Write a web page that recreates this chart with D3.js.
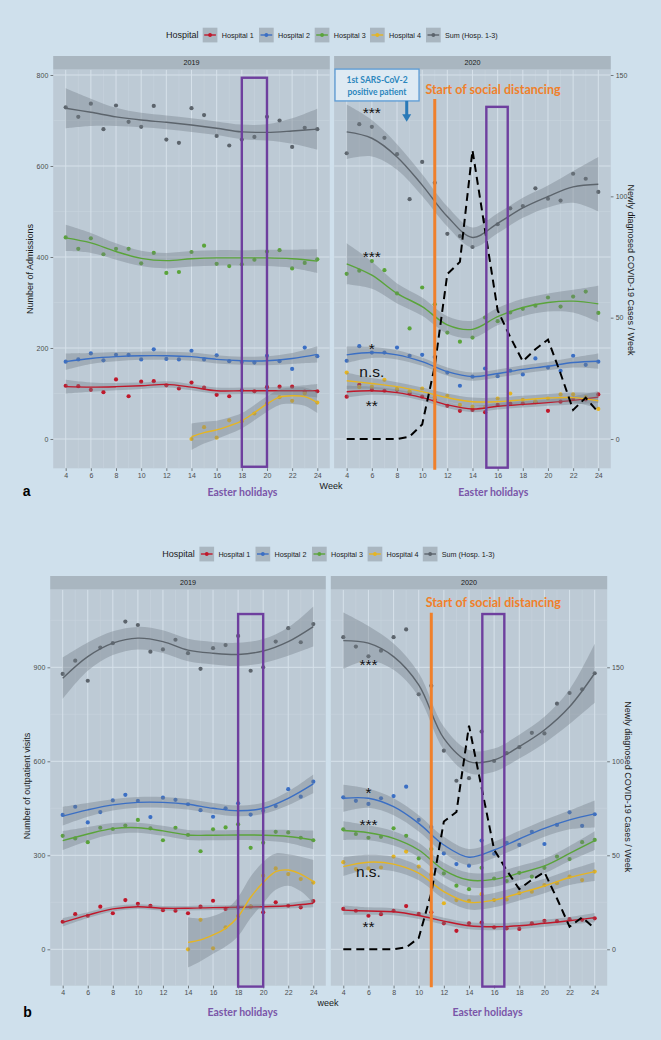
<!DOCTYPE html>
<html><head><meta charset="utf-8">
<script src="https://cdn.jsdelivr.net/npm/d3@7"></script>
<style>
html,body{margin:0;padding:0;background:#cfe0ec;}
svg{display:block;font-family:"Liberation Sans",Arial,sans-serif;}
</style></head><body>
<svg id="chart" width="661" height="1040"></svg>
<script>
// ---------------- DATA ----------------
const weeks = [4,5,6,7,8,9,10,11,12,13,14,15,16,17,18,19,20,21,22,23,24];
const weeksH4_2019 = [14,15,16,17,18,19,20,21,22,23,24];
const fitWeeks = [4,6,8,10,12,14,16,18,20,22,24];
const weekTicks = [4,6,8,10,12,14,16,18,20,22,24];
const minorWeeks = [5,7,9,11,13,15,17,19,21,23];
const years = ["2019","2020"];
const hospitals = ["Hospital 1","Hospital 2","Hospital 3","Hospital 4","Sum (Hosp. 1-3)"];
const hospColors = ["#c0182b","#3b6fc4","#5aa43a","#e5b523","#5c646c"];

// Panel a: admissions
const admH1_2019 = [117,116,108,103,131,94,126,127,118,111,124,113,97,94,107,105,114,115,115,104,105];
const admH2_2019 = [170,175,188,173,185,185,175,197,176,175,194,175,184,171,169,168,183,171,154,201,182];
const admH3_2019 = [443,418,441,406,418,418,386,409,365,367,411,425,385,380,384,394,412,415,375,387,395];
const admH4_2019 = [0,26,3,41,39,56,78,92,84,100,80];
const admSum_2019 = [729,708,737,681,733,697,686,732,658,651,727,712,666,645,658,664,708,700,642,684,681];
const admH1_2020 = [93,119,108,106,108,100,93,86,73,62,64,59,75,78,78,81,62,82,88,87,98];
const admH2_2020 = [172,204,190,190,201,183,185,180,146,117,137,155,138,150,142,177,157,150,183,163,170];
const admH3_2020 = [363,370,391,371,320,243,333,296,234,214,223,267,259,278,286,293,311,291,313,324,277];
const admH4_2020 = [146,114,115,130,110,105,111,92,95,75,71,70,89,100,86,83,89,98,98,92,66];
const admSum_2020 = [628,692,686,662,626,527,609,563,451,446,422,481,472,507,512,551,528,524,583,572,543];

// loess fits (value, half-width of 95% band)
const fitAdmH1_2019 = [115,114,115,117,120,114,106,106,106,106,106];
const bandAdmH1_2019 = [15,10,8,7,7,7,7,7,8,10,15];
const fitAdmH2_2019 = [170,177,181,183,183,181,175,172,172,177,186];
const bandAdmH2_2019 = [18,12,10,9,9,9,9,9,10,12,18];
const fitAdmH3_2019 = [442,431,412,397,392,396,398,398,398,396,391];
const bandAdmH3_2019 = [29,22,18,17,17,17,17,17,18,20,26];
const fitAdmH4_2019 = [5,14,20,29,40,58,77,92,95,93,80];
const bandAdmH4_2019 = [29,24,20,18,17,17,17,17,18,20,23];
const fitAdmSum_2019 = [727,718,708,701,696,690,683,675,674,677,681];
const bandAdmSum_2019 = [44,30,20,16,15,15,15,16,18,28,45];
const fitAdmH1_2020 = [104,106,102,91,75,66,72,76,80,85,92];
const bandAdmH1_2020 = [13,9,7,7,7,7,7,7,7,9,13];
const fitAdmH2_2020 = [185,190,185,170,148,137,144,153,160,168,171];
const bandAdmH2_2020 = [18,12,10,9,9,9,9,9,9,11,17];
const fitAdmH3_2020 = [385,360,320,291,251,241,269,289,300,303,297];
const bandAdmH3_2020 = [45,30,22,20,19,19,19,19,20,25,40];
const fitAdmH4_2020 = [128,122,115,104,91,82,82,86,90,91,84];
const bandAdmH4_2020 = [18,12,10,9,9,9,9,9,9,11,17];
const fitAdmSum_2020 = [675,661,620,558,489,443,474,508,533,554,560];
const bandAdmSum_2020 = [60,40,28,24,22,22,22,22,24,35,60];

// Panel b: outpatient visits
const visH1_2019 = [88,112,107,136,115,157,145,139,125,123,115,136,155,129,134,136,118,150,139,134,154];
const visH2_2019 = [429,455,405,438,475,493,474,422,484,477,463,444,423,450,466,430,442,457,511,487,535];
const visH3_2019 = [362,354,342,388,384,395,413,386,348,388,365,313,383,389,399,324,340,375,373,356,348];
const visH4_2019 = [0,94,3,70,106,136,235,258,240,224,213];
const visSum_2019 = [879,921,857,963,977,1046,1035,950,957,988,945,895,961,971,1000,889,900,982,1025,980,1038];
const visH1_2020 = [129,123,107,112,123,138,113,118,83,59,83,85,70,67,65,83,91,90,96,94,99];
const visH2_2020 = [485,474,464,482,489,519,413,390,306,272,267,347,305,340,333,375,336,397,437,394,431];
const visH3_2020 = [383,368,356,359,386,362,290,320,242,203,192,260,226,218,244,232,260,296,288,342,349];
const visH4_2020 = [278,256,258,261,296,312,264,239,147,157,155,176,157,159,179,184,205,211,232,221,248];
const visSum_2020 = [996,966,935,953,996,1021,814,841,634,538,546,695,601,626,645,691,689,784,818,830,881];

const fitVisH1_2019 = [86,109,129,136,131,131,133,134,136,139,147];
const bandVisH1_2019 = [13,9,8,7.5,7.5,7.5,7.5,7.5,8,9,13];
const fitVisH2_2019 = [425,445,461,469,469,463,450,442,450,482,528];
const bandVisH2_2019 = [30,22,18,17,17,17,17,17,18,22,30];
const fitVisH3_2019 = [347,368,385,388,378,365,364,365,364,360,349];
const bandVisH3_2019 = [30,22,18,16,16,16,16,16,17,21,30];
const fitVisH4_2019 = [22,30,46,67,104,166,213,248,253,240,216];
const bandVisH4_2019 = [80,68,60,58,62,66,66,58,50,55,69];
const fitVisSum_2019 = [865,934,977,993,982,955,945,941,952,982,1030];
const bandVisSum_2019 = [66,45,38,36,36,36,36,37,38,45,64];
const fitVisH1_2020 = [125,122,120,108,90,75,72,75,83,91,101];
const bandVisH1_2020 = [15,12,11,11,11,11,11,11,11,12,15];
const fitVisH2_2020 = [482,482,455,402,333,294,317,352,386,413,432];
const bandVisH2_2020 = [43,30,27,26,26,26,26,26,27,30,43];
const fitVisH3_2020 = [379,372,354,317,253,221,223,243,266,306,347];
const bandVisH3_2020 = [30,24,23,23,23,23,23,23,23,24,30];
const fitVisH4_2020 = [264,278,272,243,184,150,157,179,202,229,248];
const bandVisH4_2020 = [30,24,23,23,23,23,23,23,23,24,30];
const fitVisSum_2020 = [985,977,934,844,673,599,604,647,700,774,881];
const bandVisSum_2020 = [90,55,42,38,37,37,37,38,42,55,94];

// Newly diagnosed COVID-19 cases per week (2020)
const covidCases2020 = [0,0,0,0,0,1,6,30,68,73,119,86,53,42,32,37,41,27,12,17,11];

const admTicks = [0,200,400,600,800];
const admMinor = [100,300,500,700];
const visTicks = [0,300,600,900];
const visMinor = [150,450,750,1050];
const caseTicks = [0,50,100,150];
const sigLabelsAdm = ["***","***","*","n.s.","**"];
const sigLabelsVis = ["***","*","***","n.s.","**"];

// ---------------- STYLE / LAYOUT ----------------
const COL = {bg:"#cfe0ec", panel:"#bdcad5", strip:"#a9b6c0", gridMajor:"#d6e1ea", gridMinor:"#c8d4dd",
  band:"#76808a", tick:"#333333", tickText:"#4d4d4d", orange:"#f0802b", purple:"#6e3f9e"};

const svg = d3.select("#chart");
svg.append("rect").attr("width",661).attr("height",1040).attr("fill",COL.bg);
const defs = svg.append("defs");
let clipN = 0;

function mkSeries(vals, fit, band, color, w, fw){
  return {weeks: w||weeks, vals, fit, band, color, fitWeeks: fw||fitWeeks};
}

function styleAxis(ax){
  ax.attr("font-family",null).attr("font-size",null);
  ax.select(".domain").remove();
  ax.selectAll(".tick line").attr("stroke",COL.tick).attr("stroke-width",0.6);
  ax.selectAll(".tick text").attr("font-size",7).attr("fill",COL.tickText)
    .attr("font-family","'Liberation Sans',Arial,sans-serif");
}

function drawFacet(P, F, series){
  const x = d3.scaleLinear().domain([4,24]).range(F.xr);
  const y = P.y;
  const [px0,px1] = F.px;
  const g = svg.append("g");
  const id = "clip"+(clipN++);
  defs.append("clipPath").attr("id",id).append("rect")
    .attr("x",px0).attr("y",P.top).attr("width",px1-px0).attr("height",P.bottom-P.top);
  g.append("rect").attr("x",px0).attr("y",P.top).attr("width",px1-px0).attr("height",P.bottom-P.top).attr("fill",COL.panel);
  const gg = g.append("g").attr("clip-path",`url(#${id})`);
  gg.selectAll(null).data(minorWeeks).join("line")
    .attr("x1",d=>x(d)).attr("x2",d=>x(d)).attr("y1",P.top).attr("y2",P.bottom)
    .attr("stroke",COL.gridMinor).attr("stroke-width",0.6);
  gg.selectAll(null).data(P.yMinor).join("line")
    .attr("x1",px0).attr("x2",px1).attr("y1",d=>y(d)).attr("y2",d=>y(d))
    .attr("stroke",COL.gridMinor).attr("stroke-width",0.6);
  gg.selectAll(null).data(weekTicks).join("line")
    .attr("x1",d=>x(d)).attr("x2",d=>x(d)).attr("y1",P.top).attr("y2",P.bottom)
    .attr("stroke",COL.gridMajor).attr("stroke-width",1);
  gg.selectAll(null).data(P.yTicks).join("line")
    .attr("x1",px0).attr("x2",px1).attr("y1",d=>y(d)).attr("y2",d=>y(d))
    .attr("stroke",COL.gridMajor).attr("stroke-width",1);
  // points
  series.forEach(s=>{
    gg.append("g").selectAll("circle").data(s.weeks.map((w,i)=>({w,v:s.vals[i]}))).join("circle")
      .attr("cx",d=>x(d.w)).attr("cy",d=>y(d.v)).attr("r",2.1).attr("fill",s.color);
  });
  // smooths
  series.forEach(s=>{
    const fd = s.fitWeeks.map((w,i)=>({w,v:s.fit[i],h:s.band[i]}));
    gg.append("path").datum(fd)
      .attr("d",d3.area().x(d=>x(d.w)).y0(d=>y(d.v-d.h)).y1(d=>y(d.v+d.h)).curve(d3.curveCatmullRom))
      .attr("fill",COL.band).attr("fill-opacity",0.4);
    gg.append("path").datum(fd)
      .attr("d",d3.line().x(d=>x(d.w)).y(d=>y(d.v)).curve(d3.curveCatmullRom))
      .attr("fill","none").attr("stroke",s.color).attr("stroke-width",1.4);
  });
  // strip
  g.append("rect").attr("x",px0).attr("y",P.stripTop).attr("width",px1-px0).attr("height",P.top-P.stripTop).attr("fill",COL.strip);
  g.append("text").attr("x",(px0+px1)/2).attr("y",(P.stripTop+P.top)/2).attr("dy","0.35em")
    .attr("text-anchor","middle").attr("font-size",7.2).attr("fill","#1a1a1a").text(F.year);
  // x axis
  const ax = g.append("g").attr("transform",`translate(0,${P.bottom})`)
    .call(d3.axisBottom(x).tickValues(weekTicks).tickSize(2.7).tickPadding(P.tickPad));
  styleAxis(ax);
  return {x,g,gg};
}

function drawPanel(P, seriesByYear, ann){
  const f19 = drawFacet(P, P.facets[0], seriesByYear[0]);
  const f20 = drawFacet(P, P.facets[1], seriesByYear[1]);
  // left axis
  const al = svg.append("g").attr("transform",`translate(${P.facets[0].px[0]},0)`)
    .call(d3.axisLeft(P.y).tickValues(P.yTicks).tickSize(2.7).tickPadding(2.2));
  styleAxis(al);
  // right (secondary) axis
  const ar = svg.append("g").attr("transform",`translate(${P.facets[1].px[1]},0)`)
    .call(d3.axisRight(P.c).tickValues(caseTicks).tickSize(2.7).tickPadding(2.2));
  styleAxis(ar);
  // COVID cases dashed line
  const x = f20.x;
  f20.gg.append("path").datum(weeks.map((w,i)=>({w,v:covidCases2020[i]})))
    .attr("d",d3.line().x(d=>x(d.w)).y(d=>P.c(d.v)))
    .attr("fill","none").attr("stroke","#000").attr("stroke-width",2).attr("stroke-dasharray","8,5");
  // start of social distancing
  f20.g.append("line").attr("x1",x(11)).attr("x2",x(11)).attr("y1",P.y(ann.orangeTop)).attr("y2",P.bottom+1.5)
    .attr("stroke",COL.orange).attr("stroke-width",3);
  f20.g.append("text").attr("x",x(ann.orangeTextW)).attr("y",P.y(ann.orangeTextV)).attr("text-anchor","middle")
    .attr("font-family","Lato, 'Open Sans', sans-serif").attr("font-weight","bold").attr("font-size",12.5)
    .attr("fill",COL.orange).text("Start of social distancing");
  // Easter holiday rectangles
  [[f19,ann.easter19],[f20,ann.easter20]].forEach(([f,e])=>{
    f.g.append("rect").attr("x",f.x(e[0])).attr("width",f.x(e[1])-f.x(e[0]))
      .attr("y",P.y(e[3])).attr("height",P.y(e[2])-P.y(e[3]))
      .attr("fill","none").attr("stroke",COL.purple).attr("stroke-width",2.4);
    f.g.append("text").attr("x",f.x(e[4])).attr("y",ann.easterTextY).attr("text-anchor","middle")
      .attr("font-family","Lato, 'Open Sans', sans-serif").attr("font-weight","bold").attr("font-size",10.5)
      .attr("fill","#7a56a8").text("Easter holidays");
  });
  // significance labels at week 6 of 2020
  ann.sigLabels.forEach((t,i)=>{
    f20.g.append("text").attr("x",x(6)).attr("y",ann.sigY[i]).attr("text-anchor","middle")
      .attr("font-size",15.5).attr("fill","#111").text(t);
  });
  return {f19,f20};
}

function drawLegend(L){
  svg.append("text").attr("x",L.titleX).attr("y",L.y).attr("dy","0.35em").attr("font-size",9)
    .attr("fill","#1a1a1a").text("Hospital");
  hospitals.forEach((h,i)=>{
    const bx = L.boxX[i];
    svg.append("rect").attr("x",bx).attr("y",L.y-7.3).attr("width",14.7).attr("height",14.7).attr("fill",COL.strip);
    svg.append("line").attr("x1",bx+1.5).attr("x2",bx+13.2).attr("y1",L.y).attr("y2",L.y)
      .attr("stroke",hospColors[i]).attr("stroke-width",1.4);
    svg.append("circle").attr("cx",bx+7.35).attr("cy",L.y).attr("r",1.9).attr("fill",hospColors[i]);
    svg.append("text").attr("x",bx+19).attr("y",L.y).attr("dy","0.35em").attr("font-size",7.2)
      .attr("fill","#1a1a1a").text(h);
  });
}

function rotText(x,y,angle,txt,size){
  svg.append("text").attr("transform",`translate(${x},${y}) rotate(${angle})`).attr("text-anchor","middle")
    .attr("font-size",size).attr("fill","#1a1a1a").text(txt);
}

// ---------------- PANEL A ----------------
const PA = {
  y: d3.scaleLinear().domain([0,800]).range([439,75]),
  c: d3.scaleLinear().domain([0,150]).range([439,75]),
  top:69.5, bottom:468.3, stripTop:56, tickPad:2.2, yTicks:admTicks, yMinor:admMinor,
  facets:[{year:years[0], xr:[65.7,317.3], px:[53.2,329.8]},{year:years[1], xr:[346.7,598.3], px:[334.1,610.8]}]
};
drawLegend({y:35, titleX:166, boxX:[202.7,259,314.7,370,426]});
const A = drawPanel(PA, [
  [mkSeries(admH1_2019,fitAdmH1_2019,bandAdmH1_2019,hospColors[0]),
   mkSeries(admH2_2019,fitAdmH2_2019,bandAdmH2_2019,hospColors[1]),
   mkSeries(admH3_2019,fitAdmH3_2019,bandAdmH3_2019,hospColors[2]),
   mkSeries(admH4_2019,fitAdmH4_2019,bandAdmH4_2019,hospColors[3],weeksH4_2019,weeksH4_2019),
   mkSeries(admSum_2019,fitAdmSum_2019,bandAdmSum_2019,hospColors[4])],
  [mkSeries(admH1_2020,fitAdmH1_2020,bandAdmH1_2020,hospColors[0]),
   mkSeries(admH2_2020,fitAdmH2_2020,bandAdmH2_2020,hospColors[1]),
   mkSeries(admH3_2020,fitAdmH3_2020,bandAdmH3_2020,hospColors[2]),
   mkSeries(admH4_2020,fitAdmH4_2020,bandAdmH4_2020,hospColors[3]),
   mkSeries(admSum_2020,fitAdmSum_2020,bandAdmSum_2020,hospColors[4])]
], {orangeTop:747, orangeTextW:15.63, orangeTextV:759,
    easter19:[18,20,-61,794,18.05], easter20:[15.1,16.8,-63,730,15.65], easterTextY:496,
    sigLabels:sigLabelsAdm, sigY:[118,262,353.7,376.7,411]});

// first positive patient annotation (panel a, 2020)
(function(){
  const x = A.f20.x, y = PA.y;
  const g = A.f20.g;
  g.append("rect").attr("x",x(3.07)).attr("y",y(813)).attr("width",x(9.75)-x(3.07)).attr("height",y(743)-y(813))
    .attr("fill","#deeaf3").attr("stroke","#5b9bd5").attr("stroke-width",1.3);
  const cx = (x(3.07)+x(9.75))/2;
  g.append("text").attr("x",cx).attr("y",y(813)+13.8).attr("text-anchor","middle")
    .attr("font-family","Lato, sans-serif").attr("font-weight","bold").attr("font-size",8.5).attr("fill","#2b86bd").text("1st SARS-CoV-2");
  g.append("text").attr("x",cx).attr("y",y(813)+26).attr("text-anchor","middle")
    .attr("font-family","Lato, sans-serif").attr("font-weight","bold").attr("font-size",8.5).attr("fill","#2b86bd").text("positive patient");
  const ax = x(8.77);
  g.append("line").attr("x1",ax).attr("x2",ax).attr("y1",y(743)).attr("y2",y(712)).attr("stroke","#2a7ab8").attr("stroke-width",3);
  g.append("path").attr("d",`M${ax-4.5},${y(714)} L${ax+4.5},${y(714)} L${ax},${y(697)} Z`).attr("fill","#2a7ab8");
})();

rotText(33,269,-90,"Number of Admissions",9);
rotText(628.3,270,90,"Newly diagnosed COVID-19 Cases / Week",9);
svg.append("text").attr("x",331).attr("y",488.5).attr("text-anchor","middle").attr("font-size",9).attr("fill","#1a1a1a").text("Week");
svg.append("text").attr("x",22.7).attr("y",495.7).attr("font-size",14).attr("font-weight","bold").attr("fill","#000").text("a");

// ---------------- PANEL B ----------------
const PB = {
  y: d3.scaleLinear().domain([0,900]).range([949.3,667.3]),
  c: d3.scaleLinear().domain([0,150]).range([949.3,667.3]),
  top:589.5, bottom:985.7, stripTop:576, tickPad:1.8, yTicks:visTicks, yMinor:visMinor,
  facets:[{year:years[0], xr:[62.7,313.3], px:[50.2,325.8]},{year:years[1], xr:[343.3,594.7], px:[330.8,607.2]}]
};
drawLegend({y:554, titleX:162.3, boxX:[199.4,255.5,312,367.6,422.8]});
drawPanel(PB, [
  [mkSeries(visH1_2019,fitVisH1_2019,bandVisH1_2019,hospColors[0]),
   mkSeries(visH2_2019,fitVisH2_2019,bandVisH2_2019,hospColors[1]),
   mkSeries(visH3_2019,fitVisH3_2019,bandVisH3_2019,hospColors[2]),
   mkSeries(visH4_2019,fitVisH4_2019,bandVisH4_2019,hospColors[3],weeksH4_2019,weeksH4_2019),
   mkSeries(visSum_2019,fitVisSum_2019,bandVisSum_2019,hospColors[4])],
  [mkSeries(visH1_2020,fitVisH1_2020,bandVisH1_2020,hospColors[0]),
   mkSeries(visH2_2020,fitVisH2_2020,bandVisH2_2020,hospColors[1]),
   mkSeries(visH3_2020,fitVisH3_2020,bandVisH3_2020,hospColors[2]),
   mkSeries(visH4_2020,fitVisH4_2020,bandVisH4_2020,hospColors[3]),
   mkSeries(visSum_2020,fitVisSum_2020,bandVisSum_2020,hospColors[4])]
], {orangeTop:1074, orangeTextW:15.93, orangeTextV:1091,
    easter19:[18,20,-119,1070,18.35], easter20:[15.06,16.81,-119,1070,15.47], easterTextY:1016,
    sigLabels:sigLabelsVis, sigY:[669.7,798,830.4,877.3,932]});

rotText(30,786,-90,"Number of outpatient visits",9);
rotText(625,786.7,90,"Newly diagnosed COVID-19 Cases / Week",9);
svg.append("text").attr("x",328).attr("y",1006).attr("text-anchor","middle").attr("font-size",9).attr("fill","#1a1a1a").text("week");
svg.append("text").attr("x",23.3).attr("y",1016.7).attr("font-size",14).attr("font-weight","bold").attr("fill","#000").text("b");
</script>
</body></html>
